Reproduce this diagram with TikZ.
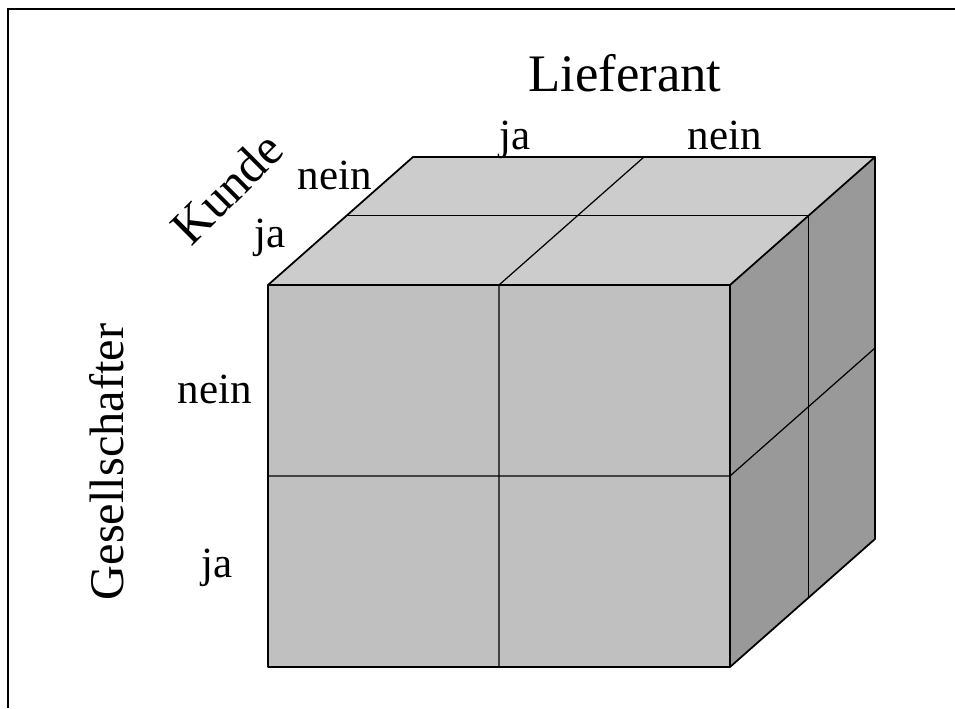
\documentclass[tikz,border=0pt]{standalone}
\usepackage{fontspec}
\setmainfont{Liberation Serif}
\usetikzlibrary{calc}
\definecolor{frontgray}{RGB}{192,192,192}
\definecolor{topgray}{RGB}{204,204,204}
\definecolor{sidegray}{RGB}{153,153,153}
\begin{document}
\begin{tikzpicture}[
    face/.style={draw=black,line width=1pt,line join=round},
    divide/.style={draw=black,line width=0.7pt},
    axislabel/.style={font=\fontsize{30}{36}\selectfont,inner sep=0pt},
    valuelabel/.style={font=\fontsize{24.5}{29}\selectfont,anchor=base,inner sep=0pt}]
    \useasboundingbox (0,0) rectangle (19.1,14.16);
    \draw[line width=1.4pt] (0.16,0) -- (0.16,13.98) -- (19.1,13.98);

    % Wuerfel: vorne unten links, Breite, Hoehe, Tiefe
    \coordinate (A) at (5.36,0.82);
    \coordinate (B) at (14.6,0.82);
    \coordinate (C) at (14.6,8.46);
    \coordinate (D) at (5.36,8.46);
    \coordinate (E) at (17.5,3.38);
    \coordinate (F) at (17.5,11.02);
    \coordinate (G) at (8.26,11.02);

    \fill[frontgray] (A) rectangle (C);
    \fill[topgray] (D) -- (C) -- (F) -- (G) -- cycle;
    \fill[sidegray] (B) -- (E) -- (F) -- (C) -- cycle;

    % Teilungen
    \draw[divide] ($(A)!0.5!(B)$) -- ($(D)!0.5!(C)$) -- ($(G)!0.5!(F)$);
    \draw[divide] ($(A)!0.5!(D)$) -- ($(B)!0.5!(C)$) -- ($(E)!0.5!(F)$);
    \draw[divide] ($(D)!0.54!(G)$) -- ($(C)!0.54!(F)$) -- ($(B)!0.54!(E)$);

    % Kanten
    \draw[face] (A) rectangle (C);
    \draw[face] (D) -- (G) -- (F) -- (C);
    \draw[face] (B) -- (E) -- (F);

    \node[axislabel,anchor=base] (lieferant) at (12.5,12.32) {Lieferant};
    \node[valuelabel] (lja) at (10.3,11.16) {ja};
    \node[valuelabel] (lnein) at (14.5,11.16) {nein};

    \node[axislabel,font=\fontsize{28.5}{34}\selectfont,rotate=45] (kunde) at (4.54,10.4) {Kunde};
    \node[valuelabel] (knein) at (6.7,10.36) {nein};
    \node[valuelabel] (kja) at (5.4,9.2) {ja};

    \node[axislabel,font=\fontsize{27.5}{33}\selectfont,rotate=90,anchor=base] (gesell) at (2.46,4.92) {Gesellschafter};
    \node[valuelabel] (gnein) at (4.3,6.1) {nein};
    \node[valuelabel] (gja) at (4.34,2.62) {ja};
\end{tikzpicture}
\end{document}
